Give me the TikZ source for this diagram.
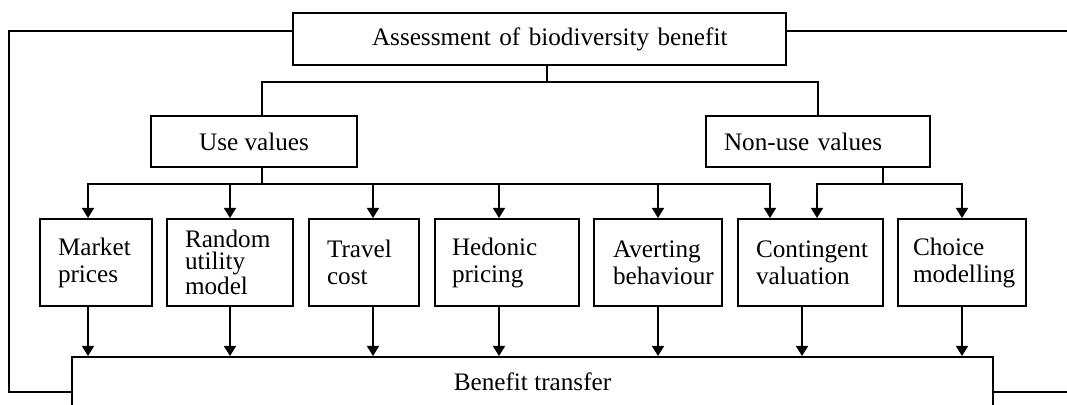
\documentclass[tikz,border=0pt]{standalone}
\usepackage{fontspec}
\setmainfont{Liberation Serif}
\usetikzlibrary{arrows.meta}
\begin{document}
\begin{tikzpicture}[x=0.5pt,y=-0.5pt,
  box/.style={draw, line width=1pt, rectangle, font=\fontsize{12.6}{13.5}\selectfont, inner ysep=0pt},
  cbox/.style={box, minimum height=43.5pt, align=left},
  conn/.style={line width=0.8pt},
  arr/.style={conn, -{Triangle[length=5pt,width=6pt]}},
  fb/.style={line width=0.7pt}]
\useasboundingbox (0,0) rectangle (1067,405);
\clip (0,0) rectangle (1067,405);
% top level
\node[box, minimum height=26pt, inner xsep=39.5pt, text width=167.5pt, align=left] (assess) at (539.5,39) {\mbox{Assessment of biodiversity benefit}};
\node[box, minimum width=103pt, minimum height=25.5pt] (use) at (254,141.5) {Use values};
\node[box, minimum height=25.5pt, inner xsep=9pt, text width=94pt, align=left] (nonuse) at (818,141.5) {\mbox{Non-use values}};
% methods
\node[cbox, inner xsep=9pt, text width=38pt] (market) at (96,262.5) {Market\\prices};
\node[cbox, inner xsep=9pt, text width=45pt, font=\fontsize{12.6}{11.3}\selectfont] (random) at (230,262.5) {Random\\utility\\model};
\node[cbox, inner xsep=9pt, text width=37pt] (travel) at (364,262.5) {Travel\\cost};
\node[cbox, inner xsep=8.5pt, text width=55pt] (hedonic) at (507,262.5) {Hedonic\\pricing};
\node[cbox, inner xsep=9.5pt, text width=45pt] (avert) at (658,262.5) {Averting\\behaviour};
\node[cbox, inner xsep=9pt, text width=54.5pt] (conting) at (810.5,262.5) {Contingent\\valuation};
\node[cbox, inner xsep=7.5pt, text width=49pt] (choice) at (962,262.5) {Choice\\modelling};
% benefit transfer
\node[box, minimum width=460.5pt, minimum height=25pt] (benefit) at (532.5,382) {Benefit transfer};
% tree from assessment
\coordinate (j1) at (547,82);
\draw[conn] (assess.south -| j1) -- (j1);
\draw[conn] ([xshift=4pt]use.north) |- (j1);
\draw[conn] (nonuse.north) |- (j1);
% use values bus
\coordinate (ub) at (262,184);
\draw[conn] (use.south -| ub) -- (ub);
\draw[arr] (ub) -| ([xshift=-4pt]market.north);
\draw[arr] (ub) -| (random.north);
\draw[arr] (ub) -| ([xshift=4.5pt]travel.north);
\draw[arr] (ub) -| ([xshift=-4pt]hedonic.north);
\draw[arr] (ub) -| (avert.north);
\draw[arr] (ub) -| ([xshift=-20.25pt]conting.north);
% non-use values bus
\coordinate (nb) at (883,184);
\draw[conn] (nonuse.south -| nb) -- (nb);
\draw[arr] (nb) -| ([xshift=3.25pt]conting.north);
\draw[arr] (nb) -| (choice.north);
% to benefit transfer
\draw[arr] ([xshift=-4pt]market.south) -- ([xshift=-4pt]market.south |- benefit.north);
\draw[arr] (random.south) -- (random.south |- benefit.north);
\draw[arr] ([xshift=4.5pt]travel.south) -- ([xshift=4.5pt]travel.south |- benefit.north);
\draw[arr] ([xshift=-4pt]hedonic.south) -- ([xshift=-4pt]hedonic.south |- benefit.north);
\draw[arr] (avert.south) -- (avert.south |- benefit.north);
\draw[arr] ([xshift=-4.25pt]conting.south) -- ([xshift=-4.25pt]conting.south |- benefit.north);
\draw[arr, line width=0.6pt] (choice.south) -- (choice.south |- benefit.north);
% feedback lines
\coordinate (fl1) at (9,31);
\coordinate (fl2) at (9,392);
\coordinate (fr1) at (1070,31);
\coordinate (fr2) at (1070,392);
\draw[fb] (assess.west |- fl1) -- (fl1) -- (fl2) -- (benefit.west |- fl2);
\draw[fb] (assess.east |- fr1) -- (fr1);
\draw[fb] (benefit.east |- fr2) -- (fr2);
\end{tikzpicture}
\end{document}
